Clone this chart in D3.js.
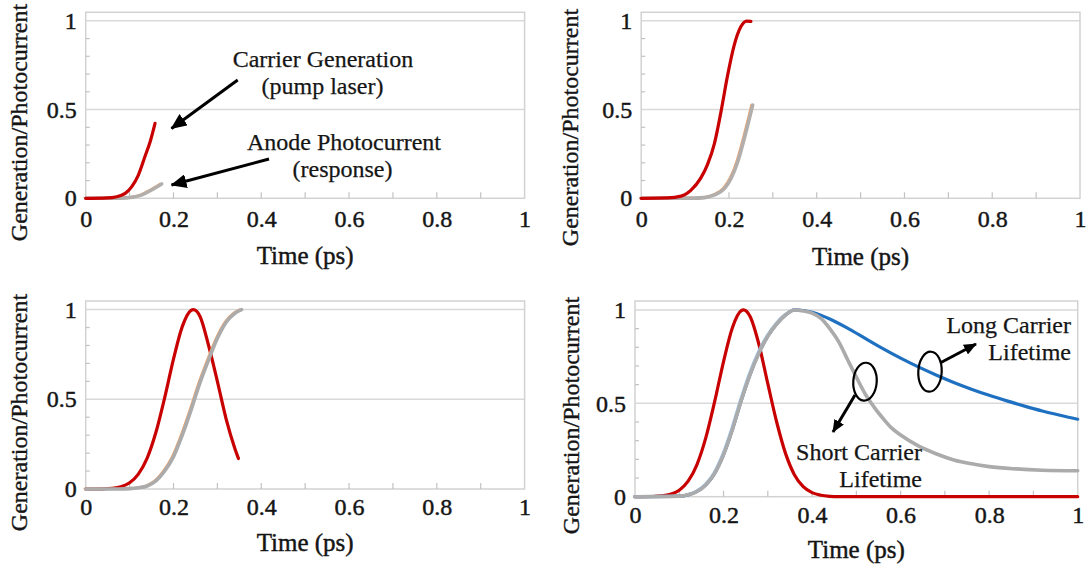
<!DOCTYPE html>
<html>
<head>
<meta charset="utf-8">
<script src="https://cdn.jsdelivr.net/npm/d3@7"></script>
<style>
  html, body { margin: 0; padding: 0; background: #fff; }
  svg { display: block; }
</style>
</head>
<body>
<svg id="chart" width="1088" height="569"></svg>
<script>
// ---- axis ticks and titles ----
const xTicks = [0, 0.2, 0.4, 0.6, 0.8, 1];
const yTicks = [0, 0.5, 1];
const xMinorTicks = [0.1, 0.2, 0.3, 0.4, 0.5, 0.6, 0.7, 0.8, 0.9];
const yMinorTicks = [0.1, 0.2, 0.3, 0.4, 0.6, 0.7, 0.8, 0.9];
const gridValues = [0.5, 1];
const yDomain = [0, 1.048];
const xTitle = "Time (ps)";
const yTitle = "Generation/Photocurrent";

// ---- (a) start of the pump pulse ----
const timeGenA = [0, 0.04, 0.06, 0.08, 0.09, 0.105, 0.12, 0.135, 0.147, 0.158];
const genA     = [0, 0.001, 0.004, 0.016, 0.028, 0.066, 0.131, 0.235, 0.32, 0.422];
const timeRespA = [0, 0.08, 0.105, 0.128, 0.15, 0.173];
const respA     = [0, 0.001, 0.006, 0.019, 0.047, 0.081];

// ---- (b) pulse reaches its maximum ----
const timeGenB = [0, 0.06, 0.091, 0.113, 0.136, 0.151, 0.167, 0.182, 0.197, 0.212, 0.227, 0.24, 0.25];
const genB     = [0, 0.002, 0.012, 0.045, 0.115, 0.19, 0.31, 0.49, 0.694, 0.863, 0.966, 0.998, 0.997];
const timeRespB = [0, 0.12, 0.144, 0.167, 0.19, 0.205, 0.22, 0.235, 0.254];
const respB     = [0, 0.001, 0.004, 0.019, 0.056, 0.113, 0.206, 0.338, 0.525];

// ---- (c) response reaches its maximum ----
const timeGenC = [0, 0.04, 0.06, 0.08, 0.10, 0.12, 0.14, 0.16, 0.18, 0.20, 0.22, 0.24, 0.245, 0.26, 0.28, 0.30, 0.32, 0.34, 0.348];
const genC     = [0, 0.001, 0.004, 0.013, 0.035, 0.083, 0.172, 0.316, 0.51, 0.724, 0.905, 0.996, 1, 0.965, 0.80, 0.60, 0.39, 0.225, 0.17];
const timeRespC = [0, 0.08, 0.10, 0.12, 0.14, 0.16, 0.18, 0.20, 0.22, 0.24, 0.26, 0.28, 0.30, 0.32, 0.34, 0.355];
const respC     = [0, 0, 0.002, 0.007, 0.017, 0.045, 0.10, 0.18, 0.30, 0.44, 0.59, 0.72, 0.84, 0.93, 0.98, 1.0];

// ---- (d) full transient, short vs long carrier lifetime ----
const timeGenD = [0, 0.04, 0.06, 0.08, 0.10, 0.12, 0.14, 0.16, 0.18, 0.20, 0.22, 0.24, 0.245, 0.26, 0.28, 0.30, 0.32, 0.34, 0.36, 0.38, 0.40, 0.42, 0.44, 0.46, 0.5, 0.6, 0.8, 1.0];
const genD     = [0, 0.001, 0.004, 0.013, 0.035, 0.083, 0.172, 0.316, 0.51, 0.724, 0.905, 0.996, 1, 0.965, 0.815, 0.605, 0.40, 0.232, 0.118, 0.054, 0.022, 0.008, 0.002, 0, 0, 0, 0, 0];
const timeRiseD = [0, 0.10, 0.12, 0.14, 0.16, 0.18, 0.20, 0.22, 0.24, 0.26, 0.28, 0.30, 0.32, 0.34, 0.36];
const riseD     = [0, 0.003, 0.01, 0.028, 0.063, 0.125, 0.225, 0.36, 0.515, 0.655, 0.77, 0.86, 0.925, 0.973, 1.0];
const timeShortD = [0.38, 0.40, 0.42, 0.44, 0.46, 0.48, 0.50, 0.52, 0.54, 0.56, 0.58, 0.60, 0.64, 0.68, 0.72, 0.76, 0.80, 0.86, 0.92, 1.0];
const shortD     = [0.995, 0.983, 0.955, 0.90, 0.83, 0.735, 0.64, 0.55, 0.48, 0.42, 0.367, 0.33, 0.272, 0.23, 0.197, 0.176, 0.161, 0.149, 0.142, 0.139];
const timeLongD = [0.38, 0.40, 0.44, 0.48, 0.52, 0.56, 0.60, 0.64, 0.68, 0.72, 0.76, 0.80, 0.84, 0.88, 0.92, 0.96, 1.0];
const longD     = [0.997, 0.988, 0.952, 0.903, 0.848, 0.793, 0.742, 0.695, 0.652, 0.612, 0.576, 0.543, 0.513, 0.485, 0.459, 0.436, 0.415];

// ---- styling ----
const FONT = '"Liberation Serif", "Times New Roman", Tinos, serif';
const INK = "#151515";
const RED = "#c80000", GRAY = "#ababab", WARM_GRAY = "#b2aeab", BLUE = "#1f70c0";
const ORANGE_EDGE = "#f2a56e", BLUE_EDGE = "#9cc4ea";
const FRAME = "#d2d2d2", GRID = "#d9d9d9", TICK = "#c2c2c2";

const svg = d3.select("#chart").style("font-family", FONT);
svg.append("rect").attr("width", 1088).attr("height", 569).attr("fill", "#fff");

// slightly heavier text strokes
function ink(sel, weight) {
  return sel.style("font-family", FONT).attr("fill", INK)
    .attr("stroke", INK).attr("stroke-width", weight).attr("paint-order", "stroke");
}

// arrowhead markers
const defs = svg.append("defs");
defs.append("marker")
  .attr("id", "head").attr("markerUnits", "userSpaceOnUse")
  .attr("viewBox", "0 0 16 14").attr("refX", 15).attr("refY", 7)
  .attr("markerWidth", 16).attr("markerHeight", 14).attr("orient", "auto")
  .append("path").attr("d", "M0,0 L16,7 L0,14 Z").attr("fill", "#000");
defs.append("marker")
  .attr("id", "headSmall").attr("markerUnits", "userSpaceOnUse")
  .attr("viewBox", "0 0 13 11").attr("refX", 12).attr("refY", 5.5)
  .attr("markerWidth", 13).attr("markerHeight", 11).attr("orient", "auto")
  .append("path").attr("d", "M0,0 L13,5.5 L0,11 Z").attr("fill", "#000");

const panels = [
  { l: 85.7, r: 524.6, t: 12.3, b: 198.3, xGap: 11.5, yTitleAt: [19, 122.5], xTitleY: 264,
    series: [
      { t: timeRespA, v: respA, color: WARM_GRAY, width: 3.6, edge: ORANGE_EDGE },
      { t: timeGenA, v: genA, color: RED, width: 3.2 } ] },
  { l: 641.2, r: 1080, t: 12.3, b: 198.3, xGap: 11.5, yTitleAt: [570, 127.5], xTitleY: 265,
    series: [
      { t: timeRespB, v: respB, color: WARM_GRAY, width: 3.6, edge: ORANGE_EDGE },
      { t: timeGenB, v: genB, color: RED, width: 3.2 } ] },
  { l: 85.7, r: 524.6, t: 301, b: 489, xGap: 9, yTitleAt: [19, 412.5], xTitleY: 551,
    series: [
      { t: timeGenC, v: genC, color: RED, width: 3.2 },
      { t: timeRespC, v: respC, color: GRAY, width: 3.6, edge: ORANGE_EDGE } ] },
  { l: 635, r: 1077.7, t: 301, b: 496.7, xGap: 9.5, yTitleAt: [571, 415.5], xTitleY: 558,
    series: [
      { t: timeGenD, v: genD, color: RED, width: 3.2 },
      { t: timeRiseD.concat(timeLongD), v: riseD.concat(longD), color: BLUE, width: 3.2 },
      { t: timeRiseD.concat(timeShortD), v: riseD.concat(shortD), color: GRAY, width: 3.6, edge: BLUE_EDGE, edgeLen: timeRiseD.length } ] }
];

function drawPanel(p) {
  const g = svg.append("g");
  const x = d3.scaleLinear().domain([0, 1]).range([p.l, p.r]);
  const y = d3.scaleLinear().domain(yDomain).range([p.b, p.t]);

  // gridlines
  g.selectAll(".grid").data(gridValues).join("line")
    .attr("x1", x(0)).attr("x2", x(1))
    .attr("y1", d => y(d)).attr("y2", d => y(d))
    .attr("stroke", GRID).attr("stroke-width", 1.5);

  // frame
  g.append("rect")
    .attr("x", x(0)).attr("y", y(yDomain[1]))
    .attr("width", x(1) - x(0)).attr("height", y(0) - y(yDomain[1]))
    .attr("fill", "none").attr("stroke", FRAME).attr("stroke-width", 1.5);

  // minor ticks pointing into the plot
  g.selectAll(".ytick").data(yMinorTicks).join("line")
    .attr("x1", x(0)).attr("x2", x(0) + 4)
    .attr("y1", d => y(d)).attr("y2", d => y(d))
    .attr("stroke", TICK).attr("stroke-width", 1.2);
  g.selectAll(".xtick").data(xMinorTicks).join("line")
    .attr("x1", d => x(d)).attr("x2", d => x(d))
    .attr("y1", y(0)).attr("y2", y(0) - 6)
    .attr("stroke", TICK).attr("stroke-width", 1.2);

  // tick labels
  const xAxis = g.append("g").attr("transform", `translate(0,${y(0)})`)
    .call(d3.axisBottom(x).tickValues(xTicks).tickFormat(d => String(d)).tickSize(0).tickPadding(p.xGap));
  const yAxis = g.append("g").attr("transform", `translate(${x(0)},0)`)
    .call(d3.axisLeft(y).tickValues(yTicks).tickFormat(d => String(d)).tickSize(0).tickPadding(9));
  [xAxis, yAxis].forEach(a => {
    a.select(".domain").remove();
    a.attr("font-family", null).style("font-family", FONT);
    ink(a.selectAll("text"), 0.45).attr("font-size", 24);
  });

  // axis titles
  ink(g.append("text"), 0.45)
    .attr("x", (x(0) + x(1)) / 2).attr("y", p.xTitleY)
    .attr("text-anchor", "middle").attr("font-size", 25).text(xTitle);
  ink(g.append("text"), 0.35)
    .attr("transform", `translate(${p.yTitleAt[0]},${p.yTitleAt[1]}) rotate(-90)`)
    .attr("text-anchor", "middle").attr("dominant-baseline", "central")
    .attr("font-size", 24).text(yTitle);

  // curves
  const line = d3.line().x(d => x(d[0])).y(d => y(d[1])).curve(d3.curveMonotoneX);
  p.series.forEach(s => {
    const pts = d3.zip(s.t, s.v);
    if (s.edge) {
      const edgePts = s.edgeLen ? pts.slice(0, s.edgeLen) : pts;
      g.append("path").attr("d", line(edgePts))
        .attr("transform", "translate(-1.6,-0.6)")
        .attr("fill", "none").attr("stroke", s.edge).attr("stroke-width", 1.4)
        .attr("stroke-linecap", "round");
    }
    g.append("path").attr("d", line(pts))
      .attr("fill", "none").attr("stroke", s.color).attr("stroke-width", s.width)
      .attr("stroke-linecap", "round").attr("stroke-linejoin", "round");
  });
}

panels.forEach(drawPanel);

// ---- annotations ----
const notes = svg.append("g").attr("font-size", 24);
function label(txt, px, py, anchor) {
  ink(notes.append("text"), 0.25)
    .attr("x", px).attr("y", py).attr("text-anchor", anchor).text(txt);
}
label("Carrier Generation", 323, 66.5, "middle");
label("(pump laser)", 322.5, 94, "middle");
label("Anode Photocurrent", 344, 150, "middle");
label("(response)", 342.5, 177, "middle");
label("Long Carrier", 1071, 333, "end");
label("Lifetime", 1071, 360, "end");
label("Short Carrier", 922, 460, "end");
label("Lifetime", 922, 487, "end");

const arrows = [
  { from: [237.7, 80], to: [171.5, 128.5], head: "head" },
  { from: [269, 159], to: [171.5, 185], head: "head" },
  { from: [940, 363], to: [976, 344], head: "headSmall" },
  { from: [855, 395], to: [833, 432], head: "headSmall" }
];
svg.append("g").selectAll("line").data(arrows).join("line")
  .attr("x1", d => d.from[0]).attr("y1", d => d.from[1])
  .attr("x2", d => d.to[0]).attr("y2", d => d.to[1])
  .attr("stroke", "#000").attr("stroke-width", 3)
  .attr("marker-end", d => `url(#${d.head})`);

const rings = [
  { cx: 865, cy: 381.7, rx: 11.7, ry: 19, rot: 4 },
  { cx: 930, cy: 371.7, rx: 11.7, ry: 20, rot: 3 }
];
svg.append("g").selectAll("ellipse").data(rings).join("ellipse")
  .attr("cx", 0).attr("cy", 0).attr("rx", d => d.rx).attr("ry", d => d.ry)
  .attr("transform", d => `translate(${d.cx},${d.cy}) rotate(${d.rot})`)
  .attr("fill", "none").attr("stroke", "#000").attr("stroke-width", 2.2);
</script>
</body>
</html>
